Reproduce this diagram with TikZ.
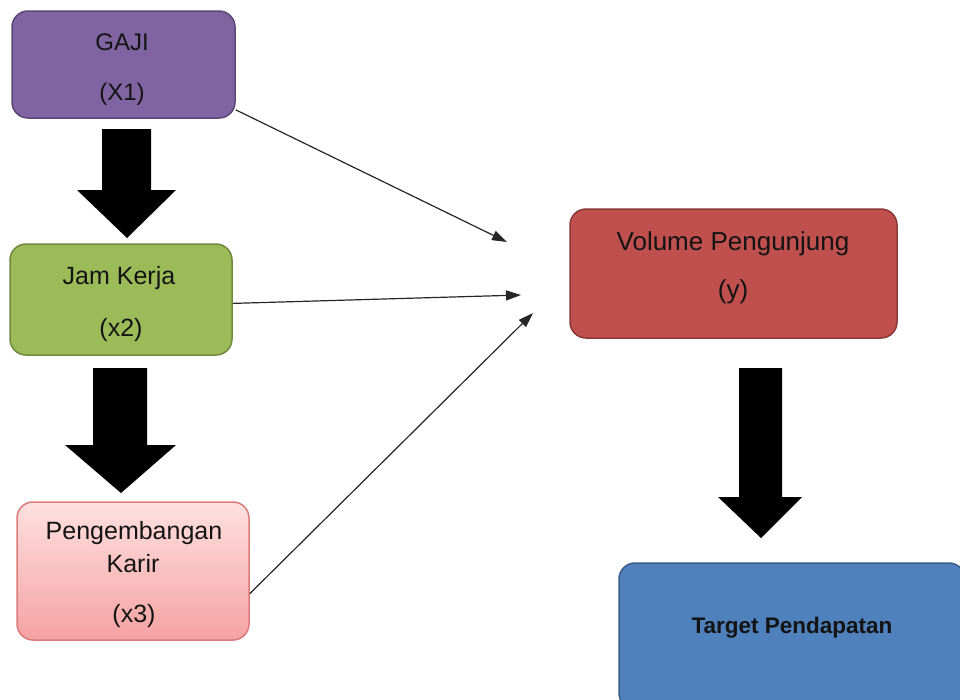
\documentclass[tikz,border=0pt]{standalone}
\usepackage{fontspec}
\setmainfont{Liberation Sans}
\usetikzlibrary{arrows.meta}
\definecolor{purpfill}{HTML}{8064A2}
\definecolor{purpline}{HTML}{5C4776}
\definecolor{grnfill}{HTML}{9BBB59}
\definecolor{grnline}{HTML}{71893F}
\definecolor{redfill}{HTML}{C0504D}
\definecolor{redline}{HTML}{8C3836}
\definecolor{bluefill}{HTML}{4F81BD}
\definecolor{blueline}{HTML}{385D8A}
\definecolor{pinktop}{HTML}{FFE0E0}
\definecolor{pinkbot}{HTML}{F5A2A2}
\definecolor{pinkline}{HTML}{DB7B7B}
\definecolor{txt}{HTML}{141414}
\tikzset{
  box/.style={draw, line width=1.5pt, rounded corners=16pt, inner sep=0pt},
  lbl/.style={anchor=base, inner sep=0pt, text=txt, font=\fontsize{25}{29}\selectfont},
  blockarrow/.style={fill=black, draw=none},
  thinarrow/.style={draw=black!85, line width=1.2pt, -{Triangle[length=15pt,width=10pt]}}
}
\begin{document}
\begin{tikzpicture}[x=1pt, y={(0pt,-1pt)}]
\useasboundingbox (0,0) rectangle (960,699);
% boxes
\node[box, fill=purpfill, draw=purpline, minimum width=223pt, minimum height=107pt] (gaji) at (123.5,64.5) {};
\node[box, fill=grnfill, draw=grnline, minimum width=222pt, minimum height=111pt] (jam) at (121,299.5) {};
\node[box, top color=pinktop, bottom color=pinkbot, draw=pinkline, minimum width=232pt, minimum height=138pt] (karir) at (133,571) {};
\node[box, fill=redfill, draw=redline, minimum width=327pt, minimum height=129pt] (vol) at (733.5,273.5) {};
\node[box, fill=bluefill, draw=blueline, minimum width=346pt, minimum height=146pt] (target) at (792,636) {};
% labels
\node[lbl, font=\fontsize{24}{28}\selectfont] (t1) at (122,50) {GAJI};
\node[lbl, font=\fontsize{24}{28}\selectfont] (t2) at (122,100) {(X1)};
\node[lbl] (t3) at (119,284) {Jam Kerja};
\node[lbl] (t4) at (121,336) {(x2)};
\node[lbl] (t5) at (134,539) {Pengembangan};
\node[lbl] (t6) at (133,572) {Karir};
\node[lbl] (t7) at (134,622) {(x3)};
\node[lbl, font=\fontsize{26}{30}\selectfont] (t8) at (733,250) {Volume Pengunjung};
\node[lbl, font=\fontsize{26}{30}\selectfont] (t9) at (733,298) {(y)};
\node[lbl, font=\fontsize{22.5}{26}\selectfont\bfseries] (t10) at (792,633) {Target Pendapatan};
% block arrows
\fill[blockarrow] (102,129) -- (151,129) -- (151,190) -- (176,190) -- (127,238) -- (77,190) -- (102,190) -- cycle;
\fill[blockarrow] (93,368) -- (147,368) -- (147,445) -- (176,445) -- (121,493) -- (65,445) -- (93,445) -- cycle;
\fill[blockarrow] (739,368) -- (782,368) -- (782,497) -- (802,497) -- (761,538) -- (718,497) -- (739,497) -- cycle;
% thin arrows
\coordinate (p1) at (507,242);
\coordinate (p2) at (521,295);
\coordinate (p3) at (533,313);
\draw[thinarrow] (gaji.-22) -- (p1);
\draw[thinarrow] (jam.-2) -- (p2);
\draw[thinarrow] (karir.-11) -- (p3);
\end{tikzpicture}
\end{document}
